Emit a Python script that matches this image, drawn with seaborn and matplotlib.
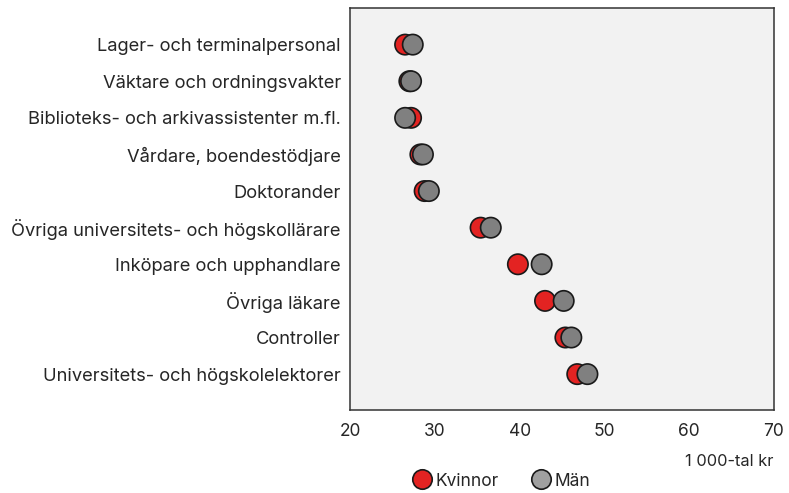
import pandas as pd
import matplotlib.pyplot as plt
import seaborn as sns

# Data (1 000-tal kr)
yrken = ["Lager- och terminalpersonal",
         "Väktare och ordningsvakter",
         "Biblioteks- och arkivassistenter m.fl.",
         "Vårdare, boendestödjare",
         "Doktorander",
         "Övriga universitets- och högskollärare",
         "Inköpare och upphandlare",
         "Övriga läkare",
         "Controller",
         "Universitets- och högskolelektorer"]
kvinnor = [26.5, 27.0, 27.2, 28.3, 28.8, 35.4, 39.8, 43.0, 45.4, 46.8]
man = [27.4, 27.2, 26.5, 28.6, 29.3, 36.6, 42.6, 45.2, 46.1, 48.0]

df = pd.DataFrame({"yrke": yrken * 2,
                   "lon": kvinnor + man,
                   "kon": ["Kvinnor"] * len(yrken) + ["Män"] * len(yrken)})

sns.set_style("white")
plt.rcParams['font.family'] = ['Inter', 'DejaVu Sans']

fig = plt.figure(figsize=(7.89, 4.93), dpi=100)
ax = fig.add_axes([350 / 789, 1 - 410 / 493, 424 / 789, 402 / 493])
ax.set_facecolor("#F2F2F2")

sns.scatterplot(data=df, x="lon", y="yrke", hue="kon",
                palette={"Kvinnor": "#E32322", "Män": "#808080"},
                s=215, edgecolor="#1a1a1a", linewidth=1.2, legend=False, ax=ax, zorder=3)

ax.set_xlim(20, 70)
ax.set_ylim(len(yrken) - 0.02, -1.0)
ax.set_xticks([20, 30, 40, 50, 60, 70])
ax.set_xlabel("")
ax.set_ylabel("")
ax.tick_params(axis="x", length=5, width=1, color="#333333", labelsize=12.5, pad=4)
ax.tick_params(axis="y", length=0, labelsize=13.2, pad=6.5)
for sp in ax.spines.values():
    sp.set_color("#333333")
    sp.set_linewidth(1.1)

fig.text(773 / 789, 1 - 462 / 493, "1 000-tal kr", ha="right", va="center", fontsize=11.8)

# legend
h1 = plt.Line2D([], [], marker="o", linestyle="", markersize=14, markerfacecolor="#E32322",
                markeredgecolor="#1a1a1a", markeredgewidth=1.2, label="Kvinnor")
h2 = plt.Line2D([], [], marker="o", linestyle="", markersize=14, markerfacecolor="#A0A0A0",
                markeredgecolor="#1a1a1a", markeredgewidth=1.2, label="Män")
fig.legend(handles=[h1, h2], loc="center", bbox_to_anchor=(501 / 789, 1 - 481 / 493),
           ncol=2, frameon=False, fontsize=12.5, handletextpad=0.2, columnspacing=1.8,
           borderpad=0, handlelength=1.2)

plt.savefig("out.png", dpi=100)
